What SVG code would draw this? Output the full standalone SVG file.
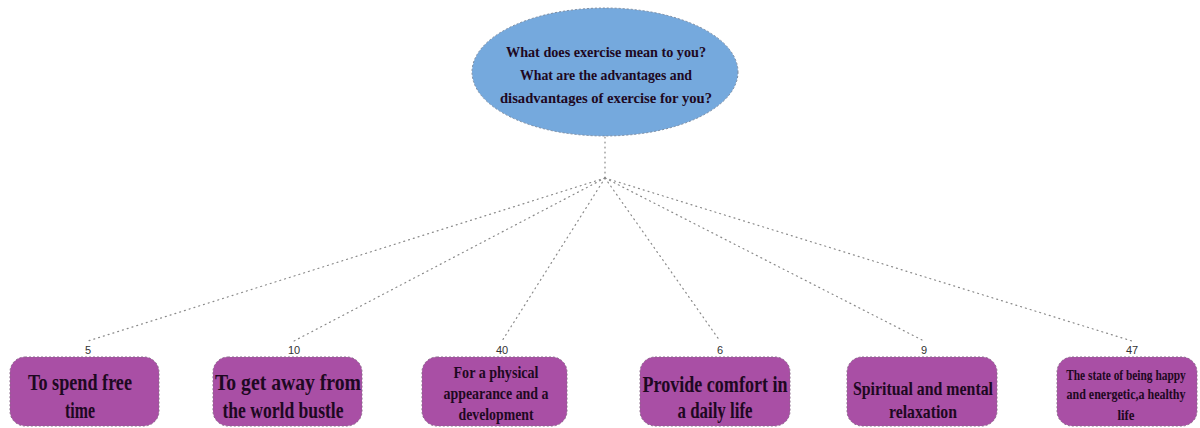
<svg xmlns="http://www.w3.org/2000/svg" width="1200" height="428" viewBox="0 0 1200 428">
  <style>
    .edge { fill: none; stroke: #8a8a8a; stroke-width: 1.2; stroke-dasharray: 1 4; stroke-linecap: round; }
    .root { fill: #75a9dd; stroke: #7a8aa0; stroke-width: 1; stroke-dasharray: 2 2; }
    .leaf { fill: #a94fa5; stroke: #8a6a8a; stroke-width: 1; stroke-dasharray: 2 2; }
    .t { font-family: "Liberation Serif", "Times New Roman", serif; font-weight: bold; fill: #1e0822; text-anchor: middle; }
    .n { font-family: "Liberation Sans", Arial, sans-serif; font-size: 11px; fill: #333; text-anchor: middle; }
  </style>

  <g id="connectors">
    <path class="edge" d="M605 137 V178"/>
    <path class="edge" d="M605 178 L88 341"/>
    <path class="edge" d="M605 178 L294 341"/>
    <path class="edge" d="M605 178 L502 341"/>
    <path class="edge" d="M605 178 L720 341"/>
    <path class="edge" d="M605 178 L924 341"/>
    <path class="edge" d="M605 178 L1132 341"/>
  </g>

  <g id="root">
    <ellipse class="root" cx="605" cy="72" rx="133" ry="64"/>
    <text class="t" font-size="14.5" x="606" y="57" textLength="200" lengthAdjust="spacingAndGlyphs">What does exercise mean to you?</text>
    <text class="t" font-size="14.5" x="606" y="80" textLength="172" lengthAdjust="spacingAndGlyphs">What are the advantages and</text>
    <text class="t" font-size="14.5" x="606" y="103" textLength="212" lengthAdjust="spacingAndGlyphs">disadvantages of exercise for you?</text>
  </g>

  <g id="leaf-free-time">
    <text class="n" x="88" y="354">5</text>
    <rect class="leaf" x="10" y="357" width="149" height="69" rx="15"/>
    <text class="t" font-size="23" x="80" y="390" textLength="104" lengthAdjust="spacingAndGlyphs">To spend free</text>
    <text class="t" font-size="23" x="80" y="418" textLength="30" lengthAdjust="spacingAndGlyphs">time</text>
  </g>

  <g id="leaf-world-bustle">
    <text class="n" x="294" y="354">10</text>
    <rect class="leaf" x="213" y="357" width="149" height="69" rx="15"/>
    <text class="t" font-size="23" x="288" y="390" textLength="146" lengthAdjust="spacingAndGlyphs">To get away from</text>
    <text class="t" font-size="23" x="283" y="418" textLength="121" lengthAdjust="spacingAndGlyphs">the world bustle</text>
  </g>

  <g id="leaf-appearance">
    <text class="n" x="502" y="354">40</text>
    <rect class="leaf" x="422" y="357" width="145" height="69" rx="15"/>
    <text class="t" font-size="17" x="496" y="378" textLength="85" lengthAdjust="spacingAndGlyphs">For a physical</text>
    <text class="t" font-size="17" x="496" y="399" textLength="105" lengthAdjust="spacingAndGlyphs">appearance and a</text>
    <text class="t" font-size="17" x="496" y="420" textLength="75" lengthAdjust="spacingAndGlyphs">development</text>
  </g>

  <g id="leaf-comfort">
    <text class="n" x="720" y="354">6</text>
    <rect class="leaf" x="640" y="357" width="150" height="69" rx="15"/>
    <text class="t" font-size="23" x="715" y="392" textLength="145" lengthAdjust="spacingAndGlyphs">Provide comfort in</text>
    <text class="t" font-size="23" x="715" y="418" textLength="75" lengthAdjust="spacingAndGlyphs">a daily life</text>
  </g>

  <g id="leaf-relaxation">
    <text class="n" x="924" y="354">9</text>
    <rect class="leaf" x="847" y="357" width="150" height="69" rx="15"/>
    <text class="t" font-size="19" x="923" y="395" textLength="140" lengthAdjust="spacingAndGlyphs">Spiritual and mental</text>
    <text class="t" font-size="19" x="923" y="418" textLength="68" lengthAdjust="spacingAndGlyphs">relaxation</text>
  </g>

  <g id="leaf-healthy-life">
    <text class="n" x="1132" y="354">47</text>
    <rect class="leaf" x="1057" y="357" width="140" height="69" rx="15"/>
    <!-- narrow lines: condensed horizontally so the tall serif face fits the box -->
    <text class="t" font-size="15" transform="translate(1126 380) scale(0.76 1)">The state of being happy</text>
    <text class="t" font-size="15" transform="translate(1126 399) scale(0.8 1)">and energetic,a healthy</text>
    <text class="t" font-size="15" transform="translate(1126 420) scale(0.85 1)">life</text>
  </g>
</svg>
